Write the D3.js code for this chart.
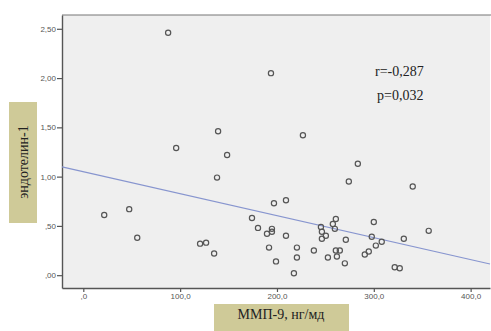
<!DOCTYPE html>
<html>
<head>
<meta charset="utf-8">
<script src="https://cdn.jsdelivr.net/npm/d3@7"></script>
<style>
  body { margin: 0; background: #fff; }
  svg { display: block; }
</style>
</head>
<body>
<div id="chart"></div>
<script>
const width = 491;
const height = 331;
const margin = {top: 15, right: 1, bottom: 43, left: 62};

// ММП-9, нг/мд
const mmp9 = [21.6, 47.4, 55.7, 87.6, 95.9, 120.6, 126.8, 135.1, 138.1, 139.2,
  148.5, 174.2, 180.4, 189.7, 191.8, 194.8, 194.8, 193.8, 196.9, 199.0,
  209.3, 209.3, 217.5, 220.6, 220.6, 226.8, 238.1, 245.4, 246.4, 246.4,
  250.5, 252.6, 257.7, 259.8, 260.8, 260.8, 261.9, 264.9, 270.1, 271.1,
  274.2, 283.5, 290.7, 294.8, 297.9, 300.0, 302.1, 308.2, 321.6, 326.8,
  331.0, 340.2, 356.7];
// эндотелин-1
const endothelin = [0.61, 0.67, 0.38, 2.46, 1.29, 0.32, 0.33, 0.22, 0.99, 1.46,
  1.22, 0.58, 0.48, 0.42, 0.28, 0.47, 0.44, 2.05, 0.73, 0.14,
  0.76, 0.40, 0.02, 0.28, 0.18, 1.42, 0.25, 0.49, 0.44, 0.37,
  0.40, 0.18, 0.52, 0.47, 0.57, 0.25, 0.19, 0.25, 0.12, 0.36,
  0.95, 1.13, 0.21, 0.24, 0.39, 0.54, 0.30, 0.34, 0.08, 0.07,
  0.37, 0.90, 0.45];

const xTicks = [0, 100, 200, 300, 400];
const yTicks = [0, 0.5, 1, 1.5, 2, 2.5];
const fitLine = [1.05, -0.00223]; // intercept, slope
const statLabels = ["r=-0,287", "p=0,032"];

const fmt = (v, d) => v.toFixed(d).replace(".", ",").replace(/^0,/, ",");

const svg = d3.select("#chart").append("svg")
  .attr("width", width)
  .attr("height", height);

const x = d3.scaleLinear()
  .domain([-22, 420])
  .range([margin.left, width - margin.right]);

const y = d3.scaleLinear()
  .domain([-0.13, 2.64])
  .range([height - margin.bottom, margin.top]);

// plot background
svg.append("rect")
  .attr("x", margin.left)
  .attr("y", margin.top)
  .attr("width", width - margin.right - margin.left)
  .attr("height", height - margin.bottom - margin.top)
  .attr("fill", "#efefef");

svg.append("line")
  .attr("x1", margin.left).attr("x2", width)
  .attr("y1", margin.top).attr("y2", margin.top)
  .attr("stroke", "#777").attr("stroke-width", 1.2);

const yAxis = svg.append("g")
  .attr("transform", "translate(" + margin.left + ",0)")
  .call(d3.axisLeft(y).tickValues(yTicks).tickSize(5).tickSizeOuter(0)
    .tickFormat(d => fmt(d, 2)));

const xAxis = svg.append("g")
  .attr("transform", "translate(0," + (height - margin.bottom) + ")")
  .call(d3.axisBottom(x).tickValues(xTicks).tickSize(4).tickSizeOuter(0)
    .tickFormat(d => fmt(d, 1)));

[xAxis, yAxis].forEach(g => {
  g.select(".domain").attr("stroke", "#555").attr("stroke-width", 1.4);
  g.selectAll(".tick line").attr("stroke", "#555").attr("stroke-width", 1.2);
  g.selectAll(".tick text")
    .attr("fill", "#555")
    .style("font-family", "Liberation Sans, Arial, sans-serif")
    .style("font-size", "8px");
});
yAxis.selectAll(".tick text").attr("x", -6);
xAxis.selectAll(".tick text").attr("y", 5);

// fit line
const xd = x.domain();
svg.append("line")
  .attr("x1", x(xd[0])).attr("y1", y(fitLine[0] + fitLine[1] * xd[0]))
  .attr("x2", x(xd[1])).attr("y2", y(fitLine[0] + fitLine[1] * xd[1]))
  .attr("stroke", "#8795cf")
  .attr("stroke-width", 1.1);

svg.selectAll(".pt")
  .data(mmp9)
  .enter()
  .append("circle")
  .attr("class", "pt")
  .attr("cx", d => x(d))
  .attr("cy", (d, i) => y(endothelin[i]))
  .attr("r", 2.6)
  .attr("fill", "none")
  .attr("stroke", "#555")
  .attr("stroke-width", 1.2);

svg.selectAll(".stat")
  .data(statLabels)
  .enter()
  .append("text")
  .attr("class", "stat")
  .attr("x", (d, i) => i == 0 ? 375 : 377)
  .attr("y", (d, i) => 76 + i * 24)
  .attr("fill", "#222")
  .style("font-family", "Liberation Serif, Times New Roman, serif")
  .style("font-size", "14px")
  .text(d => d);

// axis title boxes
svg.append("rect")
  .attr("x", 9).attr("y", 102)
  .attr("width", 28).attr("height", 121)
  .attr("fill", "#cfca98");

svg.append("text")
  .attr("transform", "translate(28,162) rotate(-90)")
  .attr("text-anchor", "middle")
  .attr("fill", "#222")
  .style("font-family", "Liberation Serif, Times New Roman, serif")
  .style("font-size", "14px")
  .text("эндотелин-1");

svg.append("rect")
  .attr("x", 214).attr("y", 304)
  .attr("width", 135).attr("height", 30)
  .attr("fill", "#cfca98");

svg.append("text")
  .attr("x", 281).attr("y", 319)
  .attr("text-anchor", "middle")
  .attr("fill", "#222")
  .style("font-family", "Liberation Serif, Times New Roman, serif")
  .style("font-size", "14px")
  .text("ММП-9, нг/мд");
</script>
</body>
</html>
